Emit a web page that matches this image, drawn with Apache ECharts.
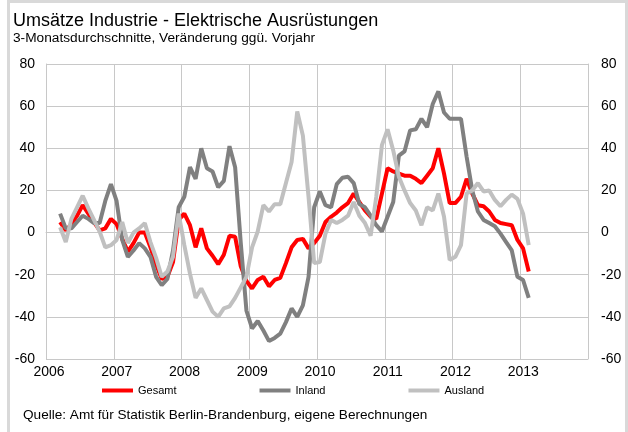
<!DOCTYPE html>
<html>
<head>
<meta charset="utf-8">
<script src="https://cdn.jsdelivr.net/npm/echarts@6/dist/echarts.min.js"></script>
<style>
html,body{margin:0;padding:0;background:#fff;}
#chart{width:628px;height:432px;}
</style>
</head>
<body>
<div id="chart"></div>
<script>
// Monthly data: March 2006 .. February 2013 (3-month averages, % change y/y)
const startYear = 2006;
const startMonth = 3;
const seriesNames = ['Gesamt', 'Inland', 'Ausland'];
const gesamt = [5,1,4,8,13,9,5,1,2,6.5,
  4,-3,-9,-5,0,0,-7,-15,-22,-21,-14,6,
  9,3.5,-7,2,-7.5,-11,-15,-10.5,-1.5,-2,-16,-23,
  -26.5,-22.5,-21,-25.5,-22.5,-21.5,-14.5,-7,-3.5,-3,-7.5,-5,
  -1.5,5,7.5,9.5,12,14,18.5,14.5,10.5,7.5,6.5,18.5,
  30.5,29,28,27,27,25.5,23.5,27,30.5,40,28,14,
  14,17,25.5,18.5,13,12.5,10,6,4.5,4,3.5,-3.5,
  -7.5,-18.5];
const inland = [9,2,2,5,8,6.5,4.5,4.5,15,23,
  15,-3.5,-11.5,-8.5,-5,-7.5,-11.5,-21,-25,-22,-8.5,12,
  17,31,25.5,40,30.5,29,21.5,24.5,41,31,-5,-37,
  -45.5,-42,-46.5,-51.5,-50,-48,-42.5,-36,-40,-34.5,-21,12,
  19.5,13,12,23,26,26.5,23.5,13.5,12,8,3.5,0.5,
  7.5,14.5,36.5,38.5,48.5,49,54,50,61,67,57,54,
  54,54,36,20,10,6,4.5,3,-0.5,-4.5,-8.5,-21,
  -22.5,-31];
const ausland = [2.5,-4.5,6.5,12,17.5,11.5,6,0.5,-7,-6,
  -3.5,5,-5,0,2,4.5,-4.5,-12,-21,-18.5,-11.5,9,
  -6,-19.5,-31,-26.5,-32,-37.5,-40,-36,-35,-31,-26,-21,
  -7,0.5,13,10,13.5,13.5,23.5,33.5,57.5,46,17,-14.5,
  -14,-0.5,6,4.5,6,8,14.5,8,4.5,-1.5,17,41.5,
  49,39,26.5,20,14,10.5,3.5,12,10.5,18.5,7.5,-13,
  -11.5,-6,18.5,20,23.5,19.5,20,15.5,12.5,15.5,18,16,
  9,-6];
const xTickYears = [2006,2007,2008,2009,2010,2011,2012,2013];
const yTicks = [-60,-40,-20,0,20,40,60,80];

// month positions (mid-month) on a year scale
const months = gesamt.map((_, i) => {
  const k = startMonth - 1 + i;
  return startYear + Math.floor(k / 12) + ((k % 12) + 0.5) / 12;
});
const toPairs = arr => arr.map((v, i) => [months[i], v]);

const colors = ['#ff0000', '#808080', '#c0c0c0'];
const gridColor = '#c8c8c8';
const font = 'Liberation Sans, Arial, sans-serif';

const chart = echarts.init(document.getElementById('chart'), null, {renderer: 'canvas'});
chart.setOption({
  animation: false,
  backgroundColor: '#ffffff',
  grid: {left: 46, right: 40, top: 64, bottom: 73, containLabel: false},
  xAxis: {
    type: 'value', min: 2006, max: 2014, interval: 1,
    axisLine: {show: true, lineStyle: {color: gridColor, width: 1}},
    axisTick: {show: false},
    splitLine: {show: true, lineStyle: {color: gridColor, width: 1}},
    axisLabel: {
      color: '#000', fontFamily: font, fontSize: 14, margin: 6,
      padding: [0, 0, 0, 6],
      formatter: v => xTickYears.indexOf(Math.round(v)) >= 0 ? String(Math.round(v)) : ''
    }
  },
  yAxis: [{
    type: 'value', min: yTicks[0], max: yTicks[yTicks.length - 1], interval: 20,
    axisLine: {show: true, lineStyle: {color: gridColor, width: 1}},
    axisTick: {show: false},
    splitLine: {show: true, lineStyle: {color: gridColor, width: 1}},
    axisLabel: {color: '#000', fontFamily: font, fontSize: 14, margin: 11}
  }, {
    type: 'value', min: yTicks[0], max: yTicks[yTicks.length - 1], interval: 20, position: 'right',
    axisLine: {show: true, lineStyle: {color: gridColor, width: 1}},
    axisTick: {show: false},
    splitLine: {show: false},
    axisLabel: {color: '#000', fontFamily: font, fontSize: 14, margin: 13}
  }],
  legend: {
    left: 97, top: 380, itemWidth: 31, itemHeight: 4, itemGap: 83,
    icon: 'rect',
    textStyle: {color: '#000', fontFamily: font, fontSize: 11},
    data: seriesNames
  },
  series: [
    {name: seriesNames[0], type: 'line', data: toPairs(gesamt), showSymbol: false, symbol: 'none',
     lineStyle: {color: colors[0], width: 4}, itemStyle: {color: colors[0]}, z: 2},
    {name: seriesNames[1], type: 'line', data: toPairs(inland), showSymbol: false, symbol: 'none',
     lineStyle: {color: colors[1], width: 4}, itemStyle: {color: colors[1]}, z: 3},
    {name: seriesNames[2], type: 'line', data: toPairs(ausland), showSymbol: false, symbol: 'none',
     lineStyle: {color: colors[2], width: 4}, itemStyle: {color: colors[2]}, z: 4}
  ],
  graphic: [
    {type: 'polyline', shape: {points: [[8.5, 445], [8.5, 1.5], [626.5, 1.5], [626.5, 445]]}, style: {fill: 'none', stroke: '#d9d9d9', lineWidth: 3}, silent: true},
    {type: 'text', x: 13, y: 21, style: {text: 'Umsätze Industrie - Elektrische Ausrüstungen', font: '18px ' + font, fill: '#000', verticalAlign: 'middle'}},
    {type: 'text', x: 13, y: 38, style: {text: '3-Monatsdurchschnitte, Veränderung ggü. Vorjahr', font: '13.7px ' + font, fill: '#000', verticalAlign: 'middle'}},
    {type: 'text', x: 23, y: 415, style: {text: 'Quelle: Amt für Statistik Berlin-Brandenburg, eigene Berechnungen', font: '13.6px ' + font, fill: '#000', verticalAlign: 'middle'}}
  ]
});
</script>
</body>
</html>
